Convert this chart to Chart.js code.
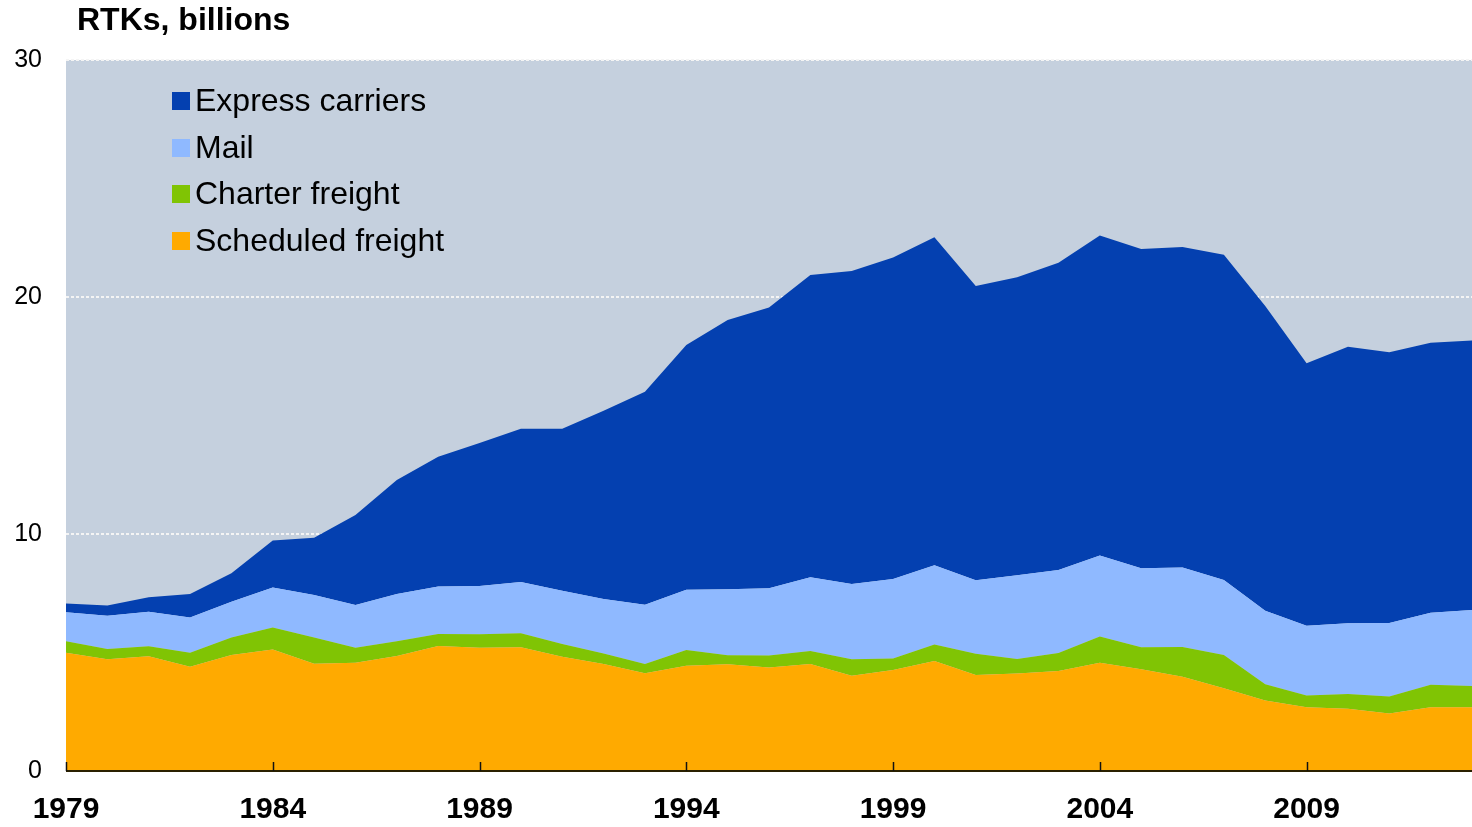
<!DOCTYPE html>
<html>
<head>
<meta charset="utf-8">
<script src="https://cdn.jsdelivr.net/npm/chart.js@4/dist/chart.umd.min.js"></script>
<style>
  html, body { margin: 0; padding: 0; background: #ffffff; }
  #wrap { width: 1472px; height: 827px; position: relative; }
</style>
</head>
<body>
<div id="wrap"><canvas id="c" width="1472" height="827"></canvas></div>
<script>
const years = ["1979","1980","1981","1982","1983","1984","1985","1986","1987","1988","1989","1990","1991","1992","1993","1994","1995","1996","1997","1998","1999","2000","2001","2002","2003","2004","2005","2006","2007","2008","2009","2010","2011","2012","2013"];
const labeledYears = ["1979","1984","1989","1994","1999","2004","2009"];
const yTicks = [0, 10, 20, 30];

const scheduledFreight = [4.99,4.72,4.84,4.40,4.89,5.13,4.53,4.57,4.85,5.27,5.20,5.22,4.82,4.51,4.12,4.44,4.50,4.37,4.51,4.02,4.26,4.64,4.05,4.11,4.22,4.57,4.29,3.98,3.49,2.97,2.69,2.63,2.43,2.69,2.69];
const charterFreight = [0.48,0.43,0.42,0.59,0.74,0.92,1.10,0.63,0.62,0.51,0.57,0.59,0.54,0.45,0.39,0.67,0.38,0.50,0.55,0.69,0.49,0.70,0.90,0.62,0.76,1.10,0.93,1.25,1.40,0.69,0.50,0.62,0.71,0.95,0.90];
const mail = [1.23,1.40,1.46,1.49,1.51,1.69,1.80,1.80,2.00,2.00,2.04,2.16,2.25,2.30,2.51,2.54,2.79,2.84,3.11,3.18,3.35,3.34,3.10,3.53,3.50,3.42,3.33,3.36,3.17,3.10,2.94,2.98,3.10,3.04,3.20];
const expressCarriers = [0.37,0.43,0.61,0.99,1.20,1.99,2.41,3.80,4.81,5.48,6.03,6.47,6.83,7.94,8.98,10.32,11.36,11.85,12.76,13.21,13.57,13.84,12.41,12.57,12.97,13.51,13.48,13.52,13.72,12.86,11.07,11.67,11.43,11.39,11.37];

const FONT = "'Liberation Sans', Arial, sans-serif";

const bgPlugin = {
  id: 'bg',
  beforeDraw(chart) {
    const {ctx, chartArea: a} = chart;
    ctx.save();
    ctx.fillStyle = '#C5D0DE';
    ctx.fillRect(a.left, a.top, a.right - a.left, a.bottom - a.top);
    ctx.restore();
  }
};

const axisPlugin = {
  id: 'axisInner',
  afterDatasetsDraw(chart) {
    const {ctx, chartArea: a, scales} = chart;
    const x = scales.x;
    ctx.save();
    ctx.strokeStyle = '#2a2000';
    ctx.lineWidth = 2;
    ctx.beginPath();
    ctx.moveTo(a.left, a.bottom);
    ctx.lineTo(a.right, a.bottom);
    ctx.stroke();
    ctx.lineWidth = 1.5;
    ctx.strokeStyle = '#111';
    years.forEach((y, i) => {
      if (labeledYears.includes(y)) {
        const px = Math.round(x.getPixelForValue(i)) + 0.5;
        ctx.beginPath();
        ctx.moveTo(px, a.bottom);
        ctx.lineTo(px, a.bottom - 9);
        ctx.stroke();
      }
    });
    ctx.restore();
  }
};

const textPlugin = {
  id: 'titleLegend',
  afterDraw(chart) {
    const {ctx} = chart;
    ctx.save();
    ctx.fillStyle = '#000';
    ctx.font = "bold 32px " + FONT;
    ctx.textBaseline = 'middle';
    ctx.textAlign = 'left';
    ctx.fillText('RTKs, billions', 77, 21);
    const ds = chart.data.datasets.slice().reverse();
    ctx.font = "32px " + FONT;
    ds.forEach((d, k) => {
      const cy = 101 + k * 46.7;
      ctx.fillStyle = d.backgroundColor;
      ctx.fillRect(172, Math.round(cy - 9), 18, 18);
      ctx.fillStyle = '#000';
      ctx.fillText(d.label, 195, cy + 1);
    });
    ctx.restore();
  }
};

const mk = (label, data, color, fill) => ({
  label, data, backgroundColor: color, borderColor: color, borderWidth: 0,
  pointRadius: 0, pointHoverRadius: 0, fill, tension: 0
});

new Chart(document.getElementById('c'), {
  type: 'line',
  data: {
    labels: years,
    datasets: [
      mk('Scheduled freight', scheduledFreight, '#FFAA00', 'origin'),
      mk('Charter freight', charterFreight, '#80C404', '-1'),
      mk('Mail', mail, '#8FB9FF', '-1'),
      mk('Express carriers', expressCarriers, '#0440B0', '-1')
    ]
  },
  options: {
    responsive: false,
    animation: false,
    events: [],
    layout: { padding: { top: 60, right: 0, left: 0, bottom: 0 } },
    plugins: { legend: { display: false }, title: { display: false }, tooltip: { enabled: false } },
    scales: {
      x: {
        type: 'category',
        offset: false,
        grid: { display: false, drawTicks: false },
        border: { display: false },
        ticks: {
          autoSkip: false, maxRotation: 0, minRotation: 0, padding: 21,
          color: '#000', font: { family: FONT, size: 30, weight: 'bold' },
          callback: function(v, i) { const l = years[i]; return labeledYears.includes(l) ? l : ''; }
        },
        afterFit(s) { s.height = 56; s.paddingRight = 0; s.paddingLeft = 0; }
      },
      y: {
        stacked: true,
        min: 0, max: 30,
        afterBuildTicks(s) { s.ticks = yTicks.map(v => ({value: v})); },
        grid: { color: '#F4F4F4', lineWidth: 2, drawTicks: false },
        border: { display: false, dash: [3,2] },
        ticks: { padding: 24, color: '#000', font: { family: FONT, size: 25 } },
        afterFit(s) { s.width = 66; s.paddingTop = 0; s.paddingBottom = 0; }
      }
    }
  },
  plugins: [bgPlugin, axisPlugin, textPlugin]
});
</script>
</body>
</html>
